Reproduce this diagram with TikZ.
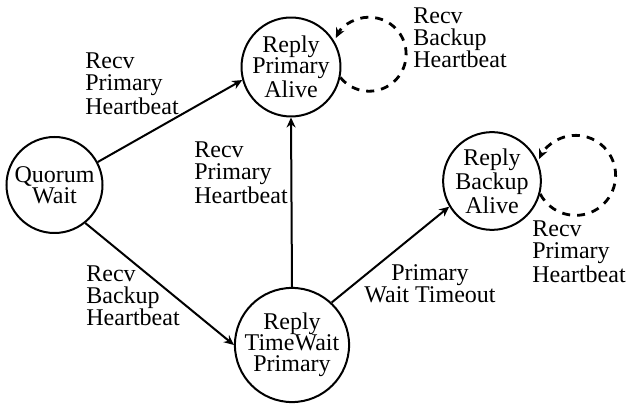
\documentclass[tikz,border=0pt]{standalone}
\usepackage{fontspec}
\setmainfont{Liberation Serif}
\usetikzlibrary{arrows.meta}
\begin{document}
\begin{tikzpicture}[x=0.5pt,y=-0.5pt,
  stnode/.style={circle,draw,line width=1pt,minimum size=#1,inner sep=0pt,align=center,font=\fontsize{12}{10.6}\selectfont},
  lbl/.style={inner sep=0pt,align=left,font=\fontsize{12}{10.9}\selectfont},
  edge/.style={line width=1pt,-{Stealth[length=5pt,width=4.5pt]}},
  selfloop/.style={line width=1.4pt,dash pattern=on 4pt off 3.5pt,-{Stealth[length=5pt,width=4.5pt]}}]
\useasboundingbox (0,0) rectangle (627,406);

\node[stnode=48pt] (qw) at (54.5,185) {Quorum\\Wait};
\node[stnode=48pt] (pa) at (291,67) {Reply\\Primary\\Alive};
\node[stnode=45pt] (ba) at (492,181) {Reply\\Backup\\Alive};
\node[stnode=56pt] (tw) at (292,345) {Reply\\TimeWait\\Primary};

\draw[edge] (qw.28) -- (pa.195);
\draw[edge] (qw.-51) -- (tw.180);
\draw[edge] (tw.north) -- (pa.south);
\draw[edge] (tw.47) -- (ba.211);

\draw[selfloop] (pa.-12) arc[start angle=219, end angle=514, radius=18.5pt];
\draw[selfloop] (ba.-15) arc[start angle=207.6, end angle=515.9, radius=20pt];

\node[lbl,anchor=west] (l1) at (85,84) {Recv\\Primary\\Heartbeat};
\node[lbl,anchor=west] (l2) at (194,173) {Recv\\Primary\\Heartbeat};
\node[lbl,anchor=west] (l3) at (86,296) {Recv\\Backup\\Heartbeat};
\node[lbl,anchor=west] (l4) at (413,38) {Recv\\Backup\\Heartbeat};
\node[lbl,anchor=west] (l5) at (532,252) {Recv\\Primary\\Heartbeat};
\node[lbl,align=center] (l6) at (430,284) {Primary\\Wait Timeout};
\end{tikzpicture}
\end{document}
